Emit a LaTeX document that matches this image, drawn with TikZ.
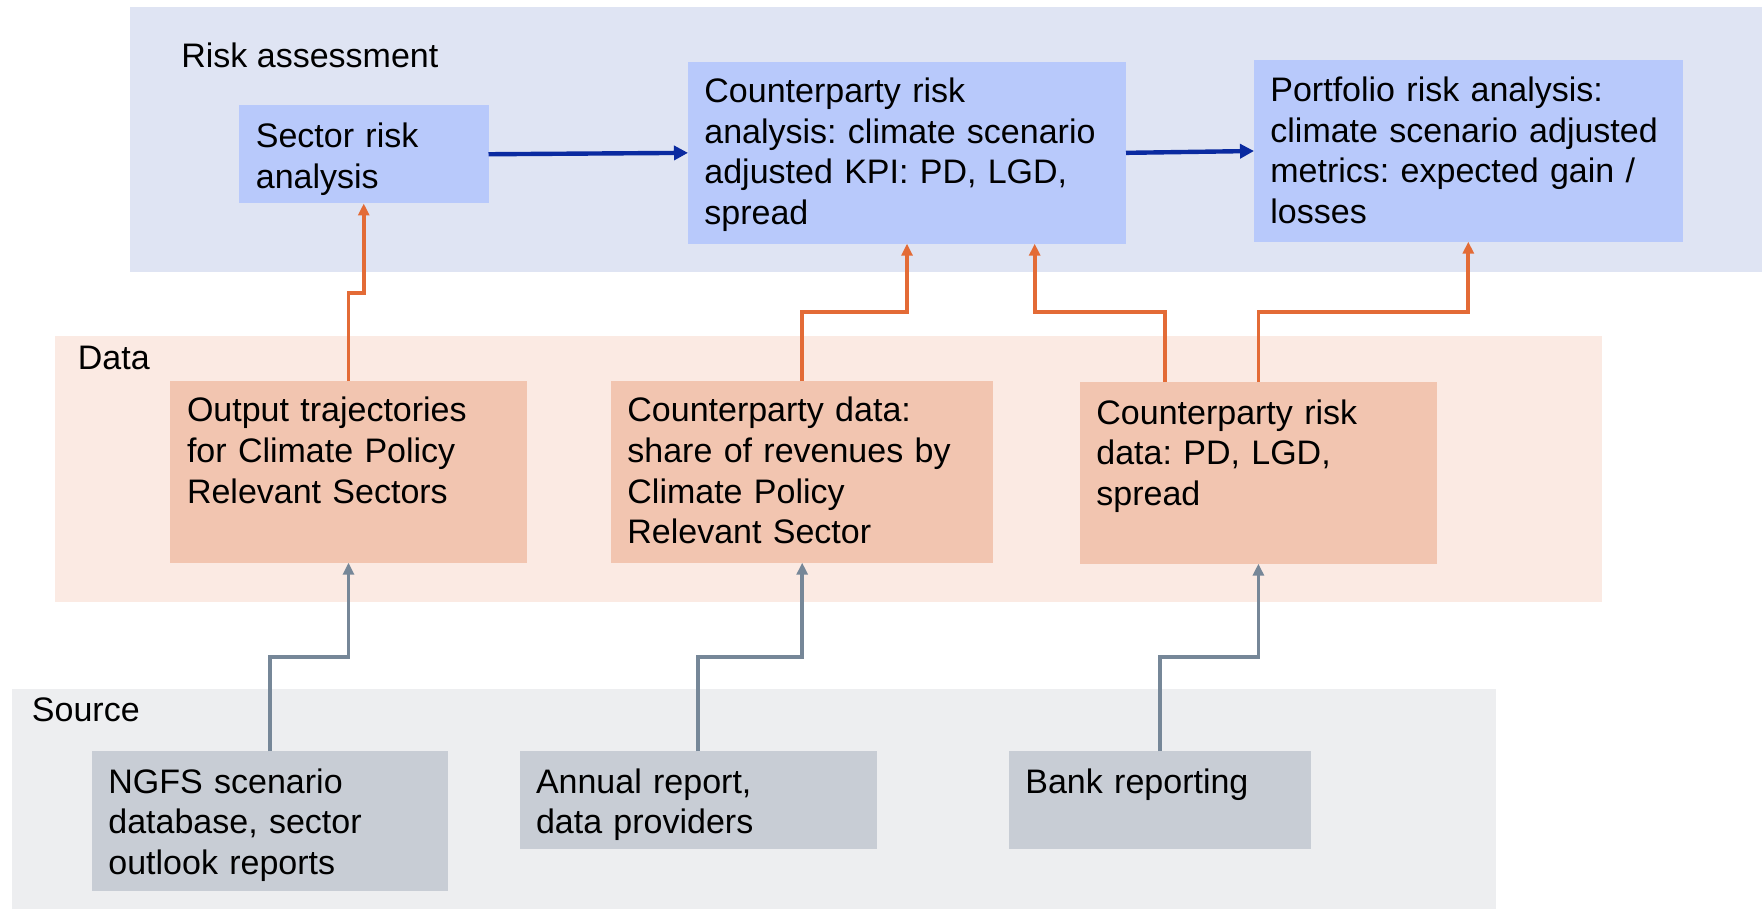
\documentclass[tikz,border=0pt]{standalone}
\usepackage{fontspec}
\setmainfont{Liberation Sans}
\frenchspacing
\usetikzlibrary{arrows.meta}
\definecolor{bandblue}{HTML}{DFE4F3}
\definecolor{boxblue}{HTML}{B8C9FB}
\definecolor{bandpeach}{HTML}{FBEAE3}
\definecolor{boxpeach}{HTML}{F2C5B0}
\definecolor{bandgray}{HTML}{EDEEF0}
\definecolor{boxgray}{HTML}{C8CDD5}
\definecolor{arrorange}{HTML}{E36B36}
\definecolor{arrgray}{HTML}{768798}
\definecolor{arrblue}{HTML}{0A2AA0}
\tikzset{
  box/.style={rectangle, inner sep=0pt, outer sep=0pt, anchor=north west},
  bluebox/.style={box, fill=boxblue},
  peachbox/.style={box, fill=boxpeach},
  graybox/.style={box, fill=boxgray},
  txt/.style={anchor=base west, inner sep=0pt, align=left,
    font=\fontsize{17pt}{20.3pt}\selectfont},
  title/.style={anchor=base west, inner sep=0pt,
    font=\fontsize{17pt}{20.3pt}\selectfont},
  bluearrow/.style={draw=arrblue, line width=2.2pt,
    -{Triangle[length=7pt,width=7pt]}},
  orangearrow/.style={draw=arrorange, line width=1.9pt,
    -{Triangle[length=6pt,width=5.5pt]}},
  grayarrow/.style={draw=arrgray, line width=1.9pt,
    -{Triangle[length=6pt,width=5.5pt]}},
}
\begin{document}
\begin{tikzpicture}[x=0.5pt,y=-0.5pt]
\useasboundingbox (0,0) rectangle (1762,909);
% bands
\fill[bandblue] (130,7) rectangle (1762,272.5);
\fill[bandpeach] (55,336) rectangle (1601.6,601.7);
\fill[bandgray] (12,689) rectangle (1496,909);
% band titles
\node[title] (tRisk) at (181,68) {Risk assessment};
\node[title] (tData) at (77.5,370) {Data};
\node[title] (tSource) at (31.6,721.7) {Source};
% risk assessment boxes
\node[bluebox, minimum width=124.75pt, minimum height=49.25pt] (sec) at (239,105) {};
\node[bluebox, minimum width=219pt, minimum height=90.85pt] (cpa) at (688,62) {};
\node[bluebox, minimum width=214.3pt, minimum height=90.7pt] (port) at (1254,60.3) {};
\node[txt, text width=116pt] (secT) at (255.5,147.7) {Sector risk\\analysis};
\node[txt, text width=211pt] (cpaT) at (704,102.7) {Counterparty risk\\analysis: climate scenario\\adjusted KPI: PD, LGD,\\spread};
\node[txt, text width=206pt] (portT) at (1270,101.7) {Portfolio risk analysis:\\climate scenario adjusted\\metrics: expected gain /\\losses};
% data boxes
\node[peachbox, minimum width=178.5pt, minimum height=90.85pt] (outp) at (170,381) {};
\node[peachbox, minimum width=191.2pt, minimum height=90.85pt] (cpd) at (611,381) {};
\node[peachbox, minimum width=178.4pt, minimum height=90.85pt] (cprd) at (1080,382) {};
\node[txt, text width=170pt] (outpT) at (186.6,422) {Output trajectories\\for Climate Policy\\Relevant Sectors};
\node[txt, text width=183pt] (cpdT) at (627,422) {Counterparty data:\\share of revenues by\\Climate Policy\\Relevant Sector};
\node[txt, text width=170pt] (cprdT) at (1096,424) {Counterparty risk\\data: PD, LGD,\\spread};
% source boxes
\node[graybox, minimum width=178.25pt, minimum height=69.85pt] (ngfs) at (91.8,751) {};
\node[graybox, minimum width=178.3pt, minimum height=49.15pt] (ann) at (520,751) {};
\node[graybox, minimum width=151.2pt, minimum height=49.15pt] (bank) at (1009,751) {};
\node[txt, text width=170pt] (ngfsT) at (108,793.3) {NGFS scenario\\database, sector\\outlook reports};
\node[txt, text width=170pt] (annT) at (535.6,793.3) {Annual report,\\data providers};
\node[txt, text width=143pt] (bankT) at (1025,793.3) {Bank reporting};
% helper coordinates
\coordinate (cprdL) at (1165,382);
\coordinate (cpaL) at (1034.7,243.7);
% blue arrows
\draw[bluearrow] (sec.east) -- (cpa.west);
\draw[bluearrow] (cpa.east) -- (port.west);
% orange arrows
\draw[orangearrow] (outp.north) -- ++(0,-88.3) -| (sec.south);
\draw[orangearrow] (cpd.north) -- ++(0,-69.3) -| (cpa.south);
\draw[orangearrow] (cprdL) -- ++(0,-70.3) -| (cpaL);
\draw[orangearrow] (cprd.north) -- ++(0,-70.3) -| (port.south);
% gray arrows
\draw[grayarrow] (ngfs.north) -- ++(0,-94.3) -| (outp.south);
\draw[grayarrow] (ann.north) -- ++(0,-94.3) -| (cpd.south);
\draw[grayarrow] (bank.north) -- ++(0,-94) -| (cprd.south);
\end{tikzpicture}
\end{document}
